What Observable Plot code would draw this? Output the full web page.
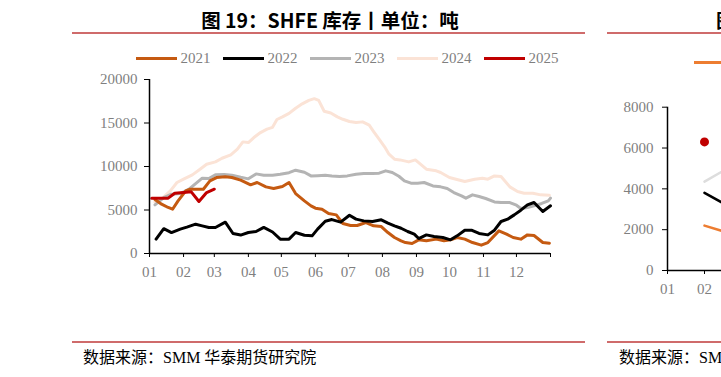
<!DOCTYPE html>
<html>
<head>
<meta charset="utf-8">
<script src="https://cdn.jsdelivr.net/npm/d3@7"></script>
<script src="https://cdn.jsdelivr.net/npm/@observablehq/plot@0.6"></script>
<style>
html,body{margin:0;padding:0;background:#fff;}
#page{position:relative;width:721px;height:377px;overflow:hidden;background:#fff;}
.title{position:absolute;font-family:"Noto Sans CJK SC";font-weight:700;font-size:19.5px;line-height:20px;color:#000;white-space:nowrap;}
.rule{position:absolute;height:2px;background:#CF6B6B;}
.src{position:absolute;font-family:"Liberation Serif","Noto Sans CJK SC";font-size:16px;line-height:18px;color:#000;white-space:nowrap;}
.legend{position:absolute;display:flex;align-items:center;font-family:"Liberation Serif";font-size:15px;line-height:18px;color:#7f7f7f;white-space:nowrap;}
.legend .sw{width:41px;height:3px;margin-right:3.5px;}
.legend .it{display:flex;align-items:center;margin-right:12.5px;}
.chart{position:absolute;}
.chart svg{max-width:none !important;}
</style>
</head>
<body>
<div id="page">
  <div class="title" id="t1">图 19：SHFE 库存丨单位：吨</div>
  <div class="rule" style="left:72px;top:32px;width:513px;"></div>
  <div class="legend" id="leg" style="left:136px;top:49px;"></div>
  <div class="chart" id="c1" style="left:0px;top:64px;width:585px;"></div>
  <div class="rule" style="left:72px;top:341px;width:513px;"></div>
  <div class="src" style="left:83px;top:349px;">数据来源：SMM 华泰期货研究院</div>

  <div class="title" style="left:716px;top:10px;">图</div>
  <div class="rule" style="left:607px;top:32px;width:120px;"></div>
  <div class="legend" id="leg2" style="left:694px;top:61px;"></div>
  <div class="chart" id="c2" style="left:600px;top:90px;width:541px;"></div>
  <div class="rule" style="left:607px;top:341px;width:120px;"></div>
  <div class="src" style="left:619px;top:349px;">数据来源：SMM 华泰期货研究院</div>
</div>
<script>
// ---------- main chart data (day of year, tonnes) ----------
const years = ["2021", "2022", "2023", "2024", "2025"];
const colors = ["#C55A11", "#000000", "#B4B4B4", "#FBE3D6", "#C00000"];

const days2021 = [5,11,17,21,26,33,37,43,49,55,61,69,75,83,92,98,106,113,121,127,133,141,147,151,157,163,170,176,183,189,197,204,211,217,223,229,233,239,245,252,261,268,274,280,287,294,302,308,318,325,331,338,344,350,358,364];
const vals2021 = [6200,5670,5290,5090,6050,7200,7390,7390,7390,8350,8730,8810,8730,8430,7890,8160,7660,7470,7700,8160,6890,6050,5480,5210,5090,4600,4440,3450,3220,3220,3560,3180,3100,2410,1840,1460,1260,1150,1570,1460,1650,1460,1570,1840,1650,1260,960,1260,2600,2220,1840,1650,2140,2070,1260,1190];

const days2022 = [6,13,20,28,34,42,48,54,60,69,76,83,90,97,104,112,119,127,133,141,148,153,160,166,174,182,188,195,203,211,217,223,229,235,241,245,252,259,267,274,280,287,293,300,308,314,320,326,332,338,344,350,358,365];
const vals2022 = [1650,2850,2410,2800,3030,3370,3180,2990,2990,3600,2300,2120,2410,2530,3000,2470,1650,1650,2410,2100,2030,2800,3700,3900,3600,4400,3950,3750,3680,3870,3490,3180,2900,2530,2220,1720,2140,1950,1840,1570,2030,2680,2680,2300,2140,2680,3680,3950,4440,4980,5590,5860,4830,5480];

const days2023 = [5,13,20,28,36,42,48,54,60,68,75,83,90,97,104,112,119,127,133,141,147,153,160,166,173,180,188,195,203,209,215,221,227,232,238,244,250,258,265,271,277,284,288,294,300,306,314,320,328,334,338,344,350,357,363,365];
const vals2023 = [5590,6430,6820,6890,7390,8040,8660,8620,9040,9080,9000,8760,8580,9150,9000,9000,9120,9290,9575,9340,8920,8950,9000,8920,8850,8920,9120,9190,9190,9230,9500,9310,8880,8350,8080,8080,8160,7770,7660,7470,7010,6630,6360,6740,6550,6320,5930,5860,5860,5550,5170,5290,5480,5750,6050,6360];

const days2024 = [5,12,19,25,31,39,46,52,60,66,74,80,85,90,95,101,107,112,116,121,127,133,139,145,150,154,159,165,171,176,182,188,194,200,204,209,214,218,223,228,236,242,252,261,265,273,279,287,296,303,308,314,320,328,335,341,349,356,364];
const vals2024 = [5900,6400,7200,8160,8540,9040,9690,10260,10530,10950,11340,11990,12830,12750,13330,13900,14300,14500,15400,15700,16100,16700,17200,17600,17800,17600,16350,16150,15700,15430,15170,15050,15130,14750,14020,13140,12260,11410,10840,10760,10530,10760,9690,9500,9310,8730,8540,8270,8540,8660,8540,8920,8850,7660,7120,6930,6930,6740,6700];

const days2025 = [2,10,17,23,31,38,45,52,59];
const vals2025 = [6360,6360,6360,6930,7010,7090,5980,7010,7390];

const yTicks = [0, 5000, 10000, 15000, 20000];
const monthLabels = ["01","02","03","04","05","06","07","08","09","10","11","12"];

// ---------- right (partial, cropped) chart data ----------
const rMonths = [2, 3];
const r2021 = [2200, 1650];
const r2022 = [3800, 2800];
const r2023 = [4350, 5400];
const r2025Month = [2];
const r2025 = [6300];
const rYTicks = [0, 2000, 4000, 6000, 8000];
const rXTicks = [1, 2];
const rColors = {"2021": "#ED7D31", "2022": "#000000", "2023": "#DDDDDD", "2025": "#C00000"};

// ---------- build main chart ----------
const base = Date.UTC(2001, 0, 1);
const toDate = d => new Date(base + d * 864e5);
const seriesDays = {"2021": days2021, "2022": days2022, "2023": days2023, "2024": days2024, "2025": days2025};
const seriesVals = {"2021": vals2021, "2022": vals2022, "2023": vals2023, "2024": vals2024, "2025": vals2025};
const drawOrder = ["2024", "2023", "2021", "2022", "2025"];
const rows = drawOrder.flatMap(y => seriesDays[y].map((d, i) => ({year: y, date: toDate(d), value: seriesVals[y][i]})));
const x0 = new Date(base), x1 = new Date(Date.UTC(2002, 0, 1));
const tickDates = d3.utcMonth.range(x0, new Date(Date.UTC(2002, 0, 2)));

const chart1 = Plot.plot({
  width: 585, height: 224,
  marginLeft: 149, marginRight: 35, marginTop: 15, marginBottom: 35,
  style: {fontFamily: "Liberation Serif", fontSize: "15px", background: "transparent", overflow: "visible"},
  x: {type: "utc", domain: [x0, x1]},
  y: {domain: [0, 20000]},
  color: {domain: years, range: colors},
  marks: [
    Plot.lineY(rows, {x: "date", y: "value", z: "year", stroke: "year", strokeWidth: 3, strokeLinejoin: "round"}),
    Plot.ruleX([x0], {stroke: "#000", strokeWidth: 1.5}),
    Plot.ruleY([0], {stroke: "#000", strokeWidth: 1.5}),
    Plot.axisY({ticks: yTicks, tickSize: 5, tickPadding: 7, stroke: "#000", fill: "#7f7f7f", label: null, tickFormat: d => String(d)}),
    Plot.axisX({ticks: tickDates, tickSize: 4, tickPadding: 9, stroke: "#000", fill: "#7f7f7f", label: null,
      tickFormat: d => d.getUTCFullYear() === 2002 ? "" : monthLabels[d.getUTCMonth()]})
  ]
});
document.getElementById("c1").appendChild(chart1);

// legend
const leg = document.getElementById("leg");
years.forEach((y, i) => {
  const it = document.createElement("div");
  it.className = "it";
  it.innerHTML = `<div class="sw" style="background:${colors[i]}"></div><span>${y}</span>`;
  leg.appendChild(it);
});

// ---------- right chart (only its left part is inside the frame) ----------
const rRows = [
  ...rMonths.map((m, i) => ({year: "2023", m, v: r2023[i]})),
  ...rMonths.map((m, i) => ({year: "2022", m, v: r2022[i]})),
  ...rMonths.map((m, i) => ({year: "2021", m, v: r2021[i]}))
];
const chart2 = Plot.plot({
  width: 541, height: 220,
  marginLeft: 67, marginRight: 30, marginTop: 16.7, marginBottom: 40,
  style: {fontFamily: "Liberation Serif", fontSize: "15px", background: "transparent", maxWidth: "none"},
  x: {domain: [1, 13]},
  y: {domain: [0, 8000]},
  marks: [
    Plot.lineY(rRows, {x: "m", y: "v", z: "year", stroke: d => rColors[d.year], strokeWidth: 2.5}),
    Plot.dot(r2025Month.map((m, i) => ({m, v: r2025[i]})), {x: "m", y: "v", r: 4.5, fill: rColors["2025"], stroke: "none"}),
    Plot.ruleX([1], {stroke: "#000", strokeWidth: 1.5}),
    Plot.ruleY([0], {stroke: "#000", strokeWidth: 1.5}),
    Plot.axisY({ticks: rYTicks, tickSize: 5, tickPadding: 9, stroke: "#000", fill: "#7f7f7f", label: null, tickFormat: d => String(d)}),
    Plot.axisX({ticks: rXTicks, tickSize: 4, tickPadding: 9, stroke: "#000", fill: "#7f7f7f", label: null,
      tickFormat: m => monthLabels[m - 1]})
  ]
});
document.getElementById("c2").appendChild(chart2);

const leg2 = document.getElementById("leg2");
leg2.innerHTML = `<div class="it"><div class="sw" style="background:${rColors["2021"]}"></div></div>`;

// center main title over the left panel
const t1 = document.getElementById("t1");
t1.style.top = "10px";
t1.style.left = (330 - t1.getBoundingClientRect().width / 2) + "px";
</script>
</body>
</html>
